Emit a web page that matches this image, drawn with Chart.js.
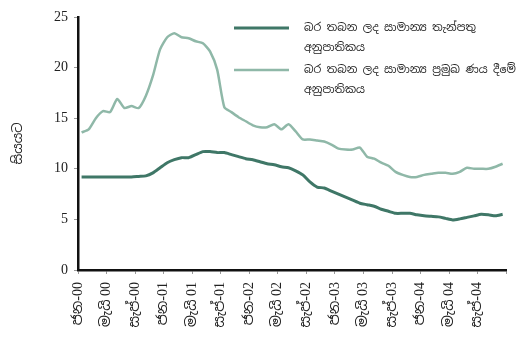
<!DOCTYPE html>
<html>
<head>
<meta charset="utf-8">
<script src="https://cdn.jsdelivr.net/npm/chart.js@4/dist/chart.umd.min.js"></script>
<style>
html,body{margin:0;padding:0;background:#fff;}
#wrap{width:531px;height:341px;position:relative;}
</style>
</head>
<body>
<div id="wrap"><canvas id="c" width="531" height="341"></canvas></div>
<script>
// Monthly, Jan 2000 – Dec 2004
const tickLabels = ['ජන-00','මැයි 00','සැප්-00','ජන-01','මැයි 01','සැප්-01','ජන-02','මැයි 02','සැප්-02','ජන-03','මැයි 03','සැප්-03','ජන-04','මැයි 04','සැප්-04'];

const depositRate = [
  9.2, 9.2, 9.2, 9.2, 9.2, 9.2, 9.2, 9.2, 9.25, 9.3,
  9.6, 10.1, 10.6, 10.9, 11.1, 11.1, 11.4, 11.7, 11.7, 11.6,
  11.6, 11.4, 11.2, 11.0, 10.9, 10.7, 10.5, 10.4, 10.2, 10.1,
  9.8, 9.4, 8.7, 8.2, 8.1, 7.8, 7.5, 7.2, 6.9, 6.6,
  6.45, 6.3, 6.0, 5.8, 5.6, 5.6, 5.6, 5.45, 5.35, 5.3,
  5.25, 5.1, 4.95, 5.05, 5.2, 5.35, 5.5, 5.45, 5.35, 5.5
];

const primeLendingRate = [
  13.6, 13.9, 15.0, 15.7, 15.6, 16.9, 16.0, 16.2, 16.0, 17.2,
  19.2, 21.8, 23.0, 23.4, 23.0, 22.9, 22.6, 22.4, 21.6, 19.8,
  16.1, 15.6, 15.1, 14.7, 14.3, 14.1, 14.1, 14.4, 13.9, 14.4,
  13.7, 12.9, 12.9, 12.8, 12.7, 12.4, 12.0, 11.9, 11.9, 12.1,
  11.2, 11.0, 10.6, 10.3, 9.7, 9.4, 9.2, 9.2, 9.4, 9.5,
  9.6, 9.6, 9.5, 9.7, 10.1, 10.0, 10.0, 10.0, 10.2, 10.5
];

const legendLines = [
  ['බර තබන ලද සාමාන්‍ය තැන්පතු', 'අනුපාතිකය'],
  ['බර තබන ලද සාමාන්‍ය ප්‍රමුඛ ණය දීමේ', 'අනුපාතිකය']
];
const yTitle = 'සියයට';

const darkColor = '#3f7767';
const lightColor = '#8fb8a8';

const toPoints = arr => arr.map((v, i) => ({x: i + 0.5, y: v}));

const legendPlugin = {
  id: 'customLegend',
  afterDraw(chart) {
    const ctx = chart.ctx;
    ctx.save();
    chart.data.datasets.forEach((ds, k) => {
      const y0 = 28 + k * 42;
      ctx.strokeStyle = ds.borderColor;
      ctx.lineWidth = ds.borderWidth;
      ctx.beginPath();
      ctx.moveTo(234, y0);
      ctx.lineTo(289, y0);
      ctx.stroke();
      ctx.fillStyle = '#222';
      ctx.font = '11px "Noto Sans Sinhala", "Noto Sans", sans-serif';
      ctx.textBaseline = 'middle';
      ctx.textAlign = 'left';
      ds.legendText.forEach((t, j) => ctx.fillText(t, 304, y0 + j * 20));
    });
    ctx.restore();
  }
};

new Chart(document.getElementById('c'), {
  type: 'line',
  data: {
    datasets: [
      {label: legendLines[0].join(' '), legendText: legendLines[0], data: toPoints(depositRate), borderColor: darkColor, borderWidth: 3, pointRadius: 0, tension: 0.2, fill: false},
      {label: legendLines[1].join(' '), legendText: legendLines[1], data: toPoints(primeLendingRate), borderColor: lightColor, borderWidth: 2.5, pointRadius: 0, tension: 0.2, fill: false}
    ]
  },
  options: {
    responsive: false,
    animation: false,
    layout: {padding: {top: 17, right: 9, left: 0, bottom: 0}},
    plugins: {legend: {display: false}, tooltip: {enabled: false}},
    scales: {
      x: {
        type: 'linear',
        min: 0, max: 60,
        afterFit: s => { s.height = 71; },
        ticks: {
          stepSize: 4,
          autoSkip: false,
          maxRotation: 90, minRotation: 90,
          padding: 8,
          color: '#222',
          font: {family: '"Liberation Serif", "Noto Sans Sinhala", serif', size: 14},
          callback: (v) => { const k = Math.round(v / 4); return (v % 4 === 0 && k < tickLabels.length) ? tickLabels[k] : ''; }
        },
        grid: {display: true, drawOnChartArea: false, drawTicks: true, tickLength: 4, color: '#999'},
        border: {display: true, color: '#111', width: 2.5}
      },
      y: {
        min: 0, max: 25,
        afterFit: s => { s.width = 78; },
        ticks: {stepSize: 5, padding: 6, color: '#222', font: {family: '"Liberation Serif", serif', size: 14}},
        grid: {display: true, drawOnChartArea: false, drawTicks: true, tickLength: 4, color: '#999'},
        border: {display: true, color: '#111', width: 2.5},
        title: {display: true, text: yTitle, color: '#222', padding: {top: 11, bottom: 0}, font: {family: '"Noto Sans Sinhala", "Noto Sans", sans-serif', size: 13}}
      }
    }
  },
  plugins: [legendPlugin]
});
</script>
</body>
</html>
